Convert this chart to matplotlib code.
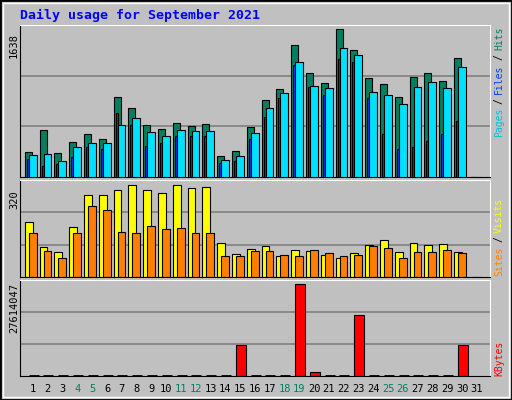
import matplotlib
matplotlib.use('Agg')
import matplotlib.pyplot as plt
import numpy as np

days = np.arange(1, 32)
hits = [278, 524, 267, 390, 479, 423, 891, 769, 579, 535, 602, 568, 590, 234, 290,
        557, 847, 969, 1459, 1147, 1036, 1638, 1404, 1092, 1025, 891, 1103, 1147, 1058, 1315, 0]
files = [245, 256, 178, 334, 379, 379, 579, 657, 501, 457, 524, 512, 512, 189, 234,
         490, 769, 925, 1270, 1003, 980, 1426, 1348, 936, 913, 813, 991, 1047, 980, 1214, 0]
pages = [201, 123, 145, 223, 334, 312, 713, 579, 345, 379, 457, 457, 457, 156, 178,
         423, 668, 880, 1237, 991, 913, 1303, 1270, 880, 479, 312, 334, 401, 479, 624, 0]
visits = [191, 104, 86, 173, 285, 285, 303, 320, 303, 292, 320, 310, 313, 118, 79,
          97, 107, 72, 93, 90, 76, 65, 83, 111, 128, 86, 118, 111, 114, 86, 0]
sites = [152, 90, 65, 152, 247, 233, 156, 152, 177, 166, 170, 152, 152, 72, 72,
         90, 90, 76, 72, 93, 83, 72, 76, 107, 100, 65, 86, 86, 93, 83, 0]
kbytes = [0] * 14 + [9440000, 0, 0, 0, 27614047, 1300000, 0, 0, 18500000] + [0] * 6 + [9440000, 0]
weekends = [4, 5, 11, 12, 18, 19, 25, 26]

BG = '#C0C0C0'
plt.rcParams['font.family'] = 'DejaVu Sans Mono'
fig = plt.figure(figsize=(5.12, 4.0), dpi=100, facecolor=BG)
W, H = 512, 400

def ax_at(x0, y0, x1, y1):
    ax = fig.add_axes([x0 / W, 1 - y1 / H, (x1 - x0) / W, (y1 - y0) / H])
    ax.set_facecolor(BG)
    ax.set_xlim(0.12, 31.88)
    ax.set_xticks([]); ax.set_yticks([])
    for s in ax.spines.values():
        s.set_color('black')
    ax.spines['top'].set_color('white')
    ax.spines['right'].set_color('white')
    return ax

def grid(ax, top):
    for f in (1 / 3, 2 / 3):
        ax.axhline(top * f, color='#808080', lw=1.2, zorder=0)

d = np.array(days)
# top panel: hits / files / pages
ax1 = ax_at(20, 25, 490, 177)
top1 = 1638 * 151 / 147
ax1.set_ylim(0, top1); grid(ax1, top1)
ax1.bar(d - 0.55, hits, width=0.47, align='edge', color='#008060', edgecolor='black', lw=0.8)
ax1.bar(d - 0.28, files, width=0.52, align='edge', color='#00E0FF', edgecolor='black', lw=0.8, zorder=3)
ax1.bar(d - 0.42, pages, width=0.18, align='edge', color='#0040FF', edgecolor='black', lw=0.8, zorder=2)

# middle panel: visits / sites
ax2 = ax_at(20, 180, 490, 277)
top2 = 320 * 97 / 92
ax2.set_ylim(0, top2); grid(ax2, top2)
ax2.bar(d - 0.55, visits, width=0.52, align='edge', color='#FFFF00', edgecolor='black', lw=0.8)
ax2.bar(d - 0.28, sites, width=0.52, align='edge', color='#FF8000', edgecolor='black', lw=0.8)

# bottom panel: kbytes
ax3 = ax_at(20, 280, 490, 376)
top3 = 27614047 * 96 / 91.7
ax3.set_ylim(0, top3); grid(ax3, top3)
kb = np.array(kbytes[:30])
ax3.bar(d[:30] - 0.3, kb, width=0.68, align='edge', color='#FF0000', edgecolor='black', lw=0.8)
for x, v in zip(d[:30], kb):
    if v == 0:
        ax3.plot([x - 0.3, x + 0.38], [0, 0], color='black', lw=2, solid_capstyle='butt')

# labels
fig.text(20 / W, 1 - 15 / H, 'Daily usage for September 2021', color='#0000FF',
         fontsize=9.5, fontweight='bold', va='center')
for y, s in [(45, '1638'), (200, '320'), (133 + 175, '27614047')]:
    fig.text(14 / W, 1 - y / H, s, rotation=90, fontsize=7.5, ha='center', va='center')
for x in days:
    c = '#008060' if x in weekends else 'black'
    fig.text((20 + (x - 0.12) / 31.76 * 470) / W, 1 - 389 / H, str(x), color=c,
             fontsize=7.5, ha='center', va='center')

def side(y_bottom, parts):
    y = y_bottom
    for s, c in parts:
        fig.text(499 / W, 1 - y / H, s, rotation=90, color=c, fontsize=7,
                 ha='center', va='bottom')
        y -= len(s) * 5.9 + 4

side(137, [('Pages', '#00C0E0'), ('/', 'black'), ('Files', '#0040FF'), ('/', 'black'), ('Hits', '#008060')])
side(276, [('Sites', '#FF8000'), ('/', 'black'), ('Visits', '#FFFF00')])
side(376, [('KBytes', '#FF0000')])

# outer border
fig.patches.append(plt.Rectangle((0, 0), 1, 1, transform=fig.transFigure, fill=False,
                                 edgecolor='black', lw=2))
fig.patches.append(plt.Rectangle((3 / W, 3 / H), 1 - 6 / W, 1 - 6 / H, transform=fig.transFigure,
                                 fill=False, edgecolor='white', lw=1))
fig.savefig('out.png', dpi=100, facecolor=BG)
